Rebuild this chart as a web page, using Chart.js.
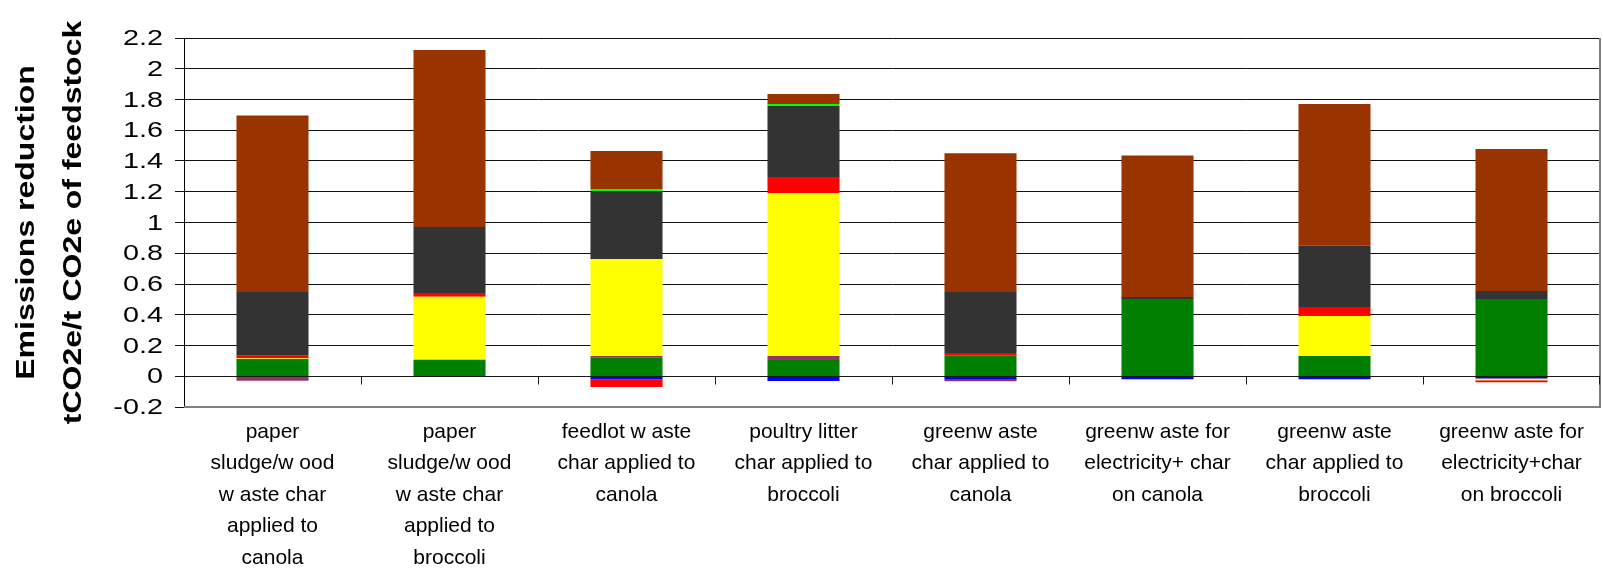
<!DOCTYPE html>
<html>
<head>
<meta charset="utf-8">
<script src="https://cdn.jsdelivr.net/npm/chart.js@4/dist/chart.umd.min.js"></script>
<style>
  html, body { margin: 0; padding: 0; background: #ffffff; }
  #wrap { width: 1603px; height: 569px; }
</style>
</head>
<body>
<div id="wrap"><canvas id="c" width="1603" height="569"></canvas></div>
<script>
// Categories (multi-line labels, as they appear under each bar)
const categories = [
  ["paper", "sludge/w ood", "w aste char", "applied to", "canola"],
  ["paper", "sludge/w ood", "w aste char", "applied to", "broccoli"],
  ["feedlot w aste", "char applied to", "canola"],
  ["poultry litter", "char applied to", "broccoli"],
  ["greenw aste", "char applied to", "canola"],
  ["greenw aste for", "electricity+ char", "on canola"],
  ["greenw aste", "char applied to", "broccoli"],
  ["greenw aste for", "electricity+char", "on broccoli"]
];

// Stacked components, tCO2e per t CO2e of feedstock
const blueValues   = [0,      0,     -0.020, -0.031, -0.022, -0.020, -0.020, -0.015];
const greenValues  = [0.112,  0.108,  0.121,  0.106,  0.134,  0.502,  0.132,  0.502];
const purpleValues = [-0.029, 0,      0.011,  0.026, -0.011,  0,      0,      0];
const yellowValues = [0.005,  0.409,  0.631,  1.060,  0,      0,      0.260, -0.011];
const redValues    = [0.017,  0.024, -0.050,  0.104,  0.017,  0,      0.058, -0.013];
const greyValues   = [0.414,  0.430,  0.442,  0.461,  0.397,  0.013,  0.399,  0.052];
const limeValues   = [0,      0,      0.013,  0.013,  0,      0,      0,      0];
const brownValues  = [1.148,  1.151,  0.247,  0.066,  0.902,  0.921,  0.922,  0.924];

// Y axis range and tick labels
const yMin = -0.2, yMax = 2.2, yStep = 0.2;
const yTickLabels = ["-0.2", "0", "0.2", "0.4", "0.6", "0.8", "1", "1.2", "1.4", "1.6", "1.8", "2", "2.2"];
const yTitle = ["Emissions reduction", "tCO2e/t CO2e of feedstock"];

const FONT = "'Liberation Sans', Arial, Helvetica, sans-serif";

function ds(label, data, color) {
  return { label, data, backgroundColor: color, borderWidth: 0, stack: 's',
           barPercentage: 0.407, categoryPercentage: 1.0 };
}

// Axis line at zero with category tick marks, plus the grey plot border
const axisDecor = {
  id: 'axisDecor',
  afterDatasetsDraw(chart) {
    const { ctx, chartArea: a, scales: { x, y } } = chart;
    ctx.save();
    ctx.strokeStyle = '#808080';
    ctx.lineWidth = 2;
    ctx.beginPath();
    ctx.moveTo(a.left, a.bottom);
    ctx.lineTo(a.right, a.bottom);
    ctx.lineTo(a.right, a.top);
    ctx.stroke();

    const y0 = Math.round(y.getPixelForValue(0)) + 0.5;
    ctx.strokeStyle = '#1a1a1a';
    ctx.lineWidth = 1;
    ctx.beginPath();
    ctx.moveTo(a.left, y0);
    ctx.lineTo(a.right, y0);
    const n = x.ticks.length;
    const step = n > 1 ? x.getPixelForTick(1) - x.getPixelForTick(0) : a.right - a.left;
    for (let i = 0; i < n; i++) {
      const xx = Math.round(x.getPixelForTick(i) + step / 2) + 0.5;
      ctx.moveTo(Math.min(xx, a.right - 0.5), y0);
      ctx.lineTo(Math.min(xx, a.right - 0.5), y0 + 8);
    }
    ctx.stroke();
    ctx.restore();
  }
};

// Wide-set value labels and the two-line axis title on the left
const yLabels = {
  id: 'yLabels',
  afterDraw(chart) {
    const { ctx, chartArea: a, scales: { y } } = chart;
    ctx.save();
    ctx.fillStyle = '#000';
    ctx.font = "22px " + FONT;
    ctx.textAlign = 'right';
    ctx.textBaseline = 'middle';
    y.ticks.forEach((t, i) => {
      const py = y.getPixelForValue(t.value);
      ctx.save();
      ctx.translate(163, py + 1);
      ctx.scale(1.31, 1);
      ctx.fillText(yTickLabels[i], 0, 0);
      ctx.restore();
    });

    const cy = (a.top + a.bottom) / 2;
    ctx.font = "bold 26px " + FONT;
    ctx.textAlign = 'center';
    ctx.textBaseline = 'alphabetic';
    const baselines = [34, 81];
    yTitle.forEach((line, i) => {
      ctx.save();
      ctx.translate(baselines[i], cy);
      ctx.rotate(-Math.PI / 2);
      ctx.scale(1.23, 1);
      ctx.fillText(line, 0, 0);
      ctx.restore();
    });
    ctx.restore();
  }
};

new Chart(document.getElementById('c'), {
  type: 'bar',
  data: {
    labels: categories,
    datasets: [
      ds('blue', blueValues, '#0000FF'),
      ds('green', greenValues, '#008000'),
      ds('purple', purpleValues, '#993366'),
      ds('yellow', yellowValues, '#FFFF00'),
      ds('red', redValues, '#FF0000'),
      ds('grey', greyValues, '#333333'),
      ds('lime', limeValues, '#00FF00'),
      ds('brown', brownValues, '#993300')
    ]
  },
  options: {
    responsive: false,
    devicePixelRatio: 1,
    animation: false,
    layout: { padding: { top: 38, right: 3, left: 0, bottom: 0 } },
    plugins: { legend: { display: false }, tooltip: { enabled: false } },
    scales: {
      x: {
        stacked: true,
        grid: { display: false, drawTicks: false },
        border: { display: false },
        ticks: {
          color: '#000',
          font: { family: FONT, size: 21, lineHeight: 1.5 },
          padding: 9,
          maxRotation: 0,
          autoSkip: false
        },
        afterFit(scale) { scale.height = 162; }
      },
      y: {
        stacked: true,
        min: yMin,
        max: yMax,
        grid: { color: '#111', lineWidth: 1, tickLength: 9, drawTicks: true },
        border: { display: true, color: '#000', width: 1 },
        ticks: {
          stepSize: yStep,
          autoSkip: false,
          display: false
        },
        afterFit(scale) { scale.width = 184; }
      }
    }
  },
  plugins: [axisDecor, yLabels]
});
</script>
</body>
</html>
